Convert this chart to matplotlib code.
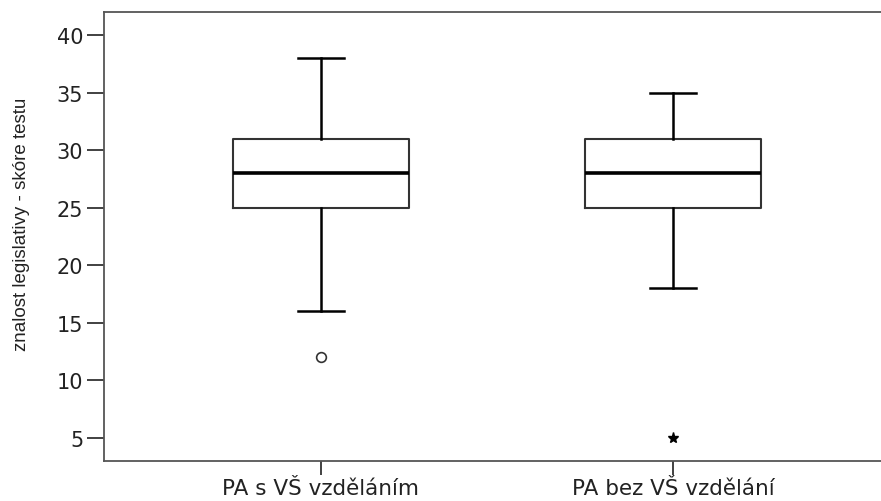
import matplotlib
matplotlib.use("Agg")
import matplotlib.pyplot as plt

# Box plot summary values

groups = ["PA s VŠ vzděláním", "PA bez VŠ vzdělání"]
whisker_low = [16, 18]
q1 = [25, 25]
median = [28, 28]
q3 = [31, 31]
whisker_high = [38, 35]
outliers = [[12], []]        # drawn as open circles
extremes = [[], [5]]         # drawn as stars

y_ticks = [5, 10, 15, 20, 25, 30, 35, 40]

plt.rcParams["font.family"] = ["DejaVu Sans"]

fig = plt.figure(figsize=(8.81, 5.02), dpi=100)
ax = fig.add_axes([104 / 881, 40 / 502, 1 - 104 / 881 + 0.02, 449 / 502])

stats = []
for i, name in enumerate(groups):
    stats.append(
        {
            "label": name,
            "whislo": whisker_low[i],
            "q1": q1[i],
            "med": median[i],
            "q3": q3[i],
            "whishi": whisker_high[i],
            "fliers": [],
        }
    )

positions = list(range(1, len(groups) + 1))
ax.bxp(
    stats,
    positions=positions,
    widths=0.5,
    capwidths=0.13,
    showfliers=False,
    boxprops={"color": "#333333", "linewidth": 1.5},
    whiskerprops={"color": "black", "linewidth": 1.8},
    capprops={"color": "black", "linewidth": 1.8},
    medianprops={"color": "black", "linewidth": 2.6},
)

# Outliers and extreme values

for pos, vals in zip(positions, outliers):
    ax.plot([pos] * len(vals), vals, linestyle="none", marker="o",
            markersize=7, markerfacecolor="white", markeredgecolor="#333333",
            markeredgewidth=1.2)
for pos, vals in zip(positions, extremes):
    ax.plot([pos] * len(vals), vals, linestyle="none", marker="*",
            markersize=8, color="black")

ax.set_xlim(0.385, 2.64)
ax.set_ylim(3, 42)
ax.set_yticks(y_ticks)
ax.set_xticks(positions)
ax.set_xticklabels(groups)

ax.tick_params(axis="y", length=12, width=1.3, labelsize=15, color="#333333",
               labelcolor="#222222", pad=3)
ax.tick_params(axis="x", length=10, width=1.3, labelsize=15.5, color="#333333",
               labelcolor="#222222", pad=2)

for side in ["left", "top", "bottom"]:
    ax.spines[side].set_color("#555555")
    ax.spines[side].set_linewidth(1.3)
ax.spines["right"].set_visible(False)

ax.set_ylabel("znalost legislativy - skóre testu", fontsize=13.5,
              fontfamily=["Liberation Sans Narrow", "Liberation Sans"],
              color="#222222")
ax.yaxis.set_label_coords(-0.093, 0.53)

fig.savefig("out.png", dpi=100)
